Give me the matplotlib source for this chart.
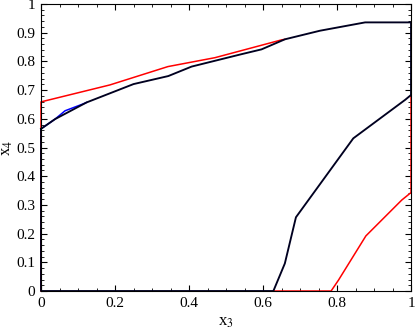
import matplotlib.pyplot as plt
from matplotlib.ticker import MultipleLocator, FormatStrFormatter

plt.rcParams['font.family'] = ['Liberation Serif', 'DejaVu Serif']
plt.rcParams['mathtext.fontset'] = 'stix'

# red outer boundary (the part under the black curve is left out)
red_top_x = [0, 0, 0.186, 0.343, 0.47, 0.65, 0.659]
red_top_y = [0, 0.659, 0.718, 0.782, 0.813, 0.875, 0.877]
red_low_x = [1, 1, 0.975, 0.878, 0.804, 0.784, 0.628]
red_low_y = [0.683, 0.343, 0.317, 0.192, 0.038, 0, 0]

# blue small bump
blue_x = [0, 0.038, 0.065, 0.114, 0.123]
blue_y = [0.565, 0.599, 0.628, 0.652, 0.657]

# black inner boundary
black_x = [0, 0.038, 0.123, 0.25, 0.344, 0.407, 0.538, 0.596, 0.659, 0.754, 0.876, 1,
           1, 0.984, 0.844, 0.689, 0.659, 0.628, 0, 0]
black_y = [0.565, 0.599, 0.657, 0.721, 0.749, 0.782, 0.824, 0.842, 0.877, 0.907, 0.936, 0.936,
           0.683, 0.666, 0.532, 0.257, 0.096, 0, 0, 0.565]

fig = plt.figure(figsize=(4.15, 3.35), dpi=100)
ax = fig.add_axes([0.0988, 0.1313, 0.8916, 0.8567])

ax.plot(red_top_x, red_top_y, color='#ff0000', lw=1.1, clip_on=False)
ax.plot(red_low_x, red_low_y, color='#ff0000', lw=1.1, clip_on=False)
ax.plot(blue_x, blue_y, color='#0000ff', lw=1.1)
ax.plot(black_x, black_y, color='#000020', lw=1.35, clip_on=False)

ax.set_xlim(0, 1)
ax.set_ylim(0, 1)

# Ticks
ax.xaxis.set_major_locator(MultipleLocator(0.2))
ax.xaxis.set_minor_locator(MultipleLocator(0.05))
ax.yaxis.set_major_locator(MultipleLocator(0.1))
ax.yaxis.set_minor_locator(MultipleLocator(0.02))
ax.xaxis.set_major_formatter(FormatStrFormatter('%g'))
ax.yaxis.set_major_formatter(FormatStrFormatter('%g'))
ax.tick_params(which='both', direction='in', top=True, right=True, labelsize=11)
ax.tick_params(which='major', length=4, pad=4)
ax.tick_params(which='minor', length=2)

# Labels
ax.set_xlabel('x$_3$', fontsize=12, labelpad=3)
ax.set_ylabel('x$_4$', fontsize=12, labelpad=1)

plt.savefig('out.png', dpi=100)
